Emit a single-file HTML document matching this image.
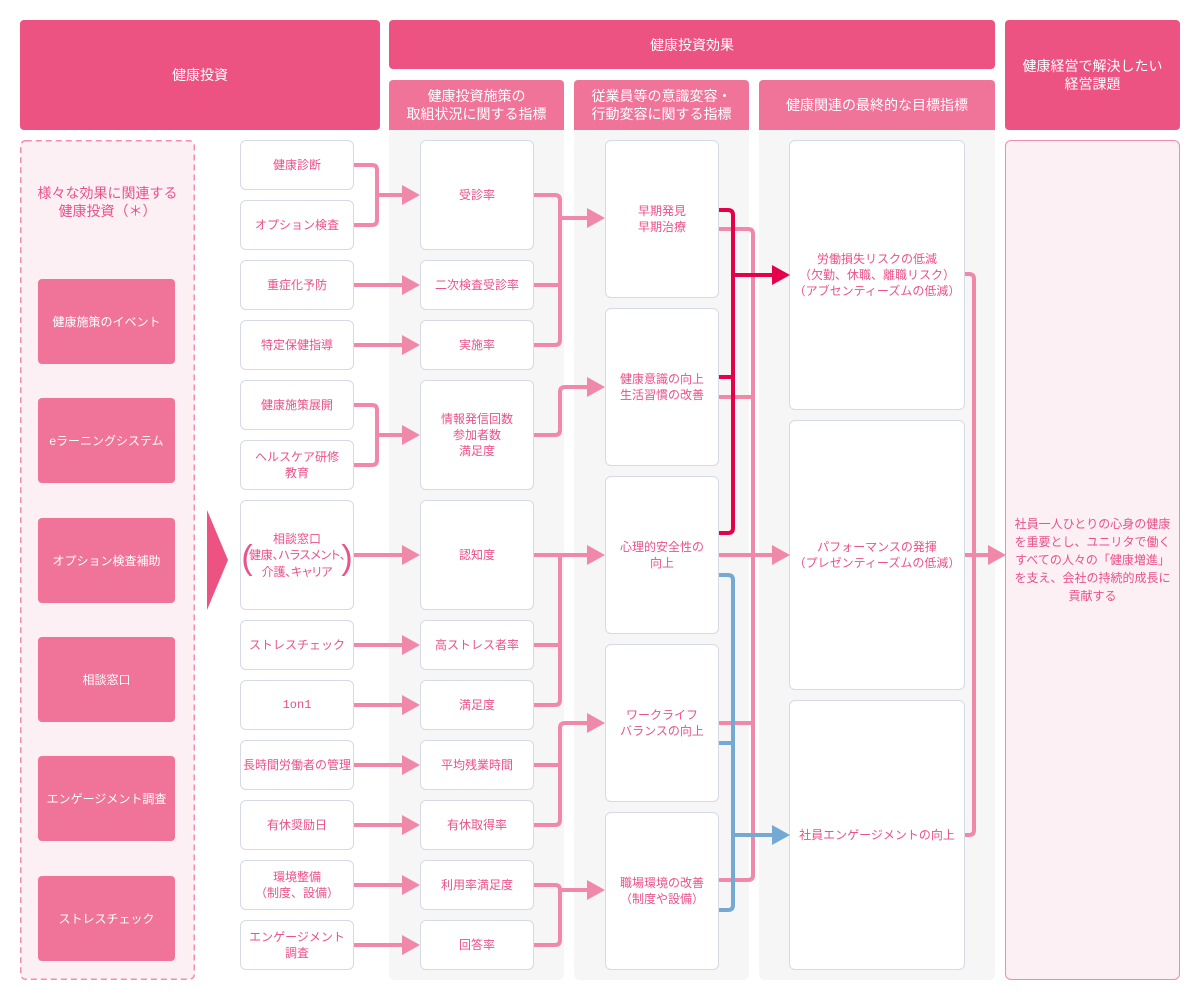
<!DOCTYPE html>
<html lang="ja">
<head>
<meta charset="utf-8">
<style>
  html,body{margin:0;padding:0;background:#fff;}
  body{width:1200px;height:1000px;position:relative;overflow:hidden;
       font-family:"Liberation Sans","Noto Sans CJK JP",sans-serif;}
  .abs{position:absolute;box-sizing:border-box;}
  .hd{position:absolute;box-sizing:border-box;background:#ec5282;color:#fff;border-radius:4px;
      display:flex;align-items:center;justify-content:center;text-align:center;font-size:14px;line-height:18px;}
  .sh{position:absolute;box-sizing:border-box;background:#f07399;color:#fff;border-radius:4px 4px 0 0;
      display:flex;align-items:center;justify-content:center;text-align:center;font-size:14px;line-height:18px;}
  .col{position:absolute;background:#f6f6f6;border-radius:0 0 6px 6px;}
  .b{position:absolute;box-sizing:border-box;background:#fff;border:1.5px solid #d6d9e6;border-radius:6px;
     display:flex;align-items:center;justify-content:center;text-align:center;color:#e9528a;
     font-size:12px;line-height:16px;}
  .lb{position:absolute;box-sizing:border-box;background:#f07399;border-radius:4px;color:#fff;
      display:flex;align-items:center;justify-content:center;text-align:center;font-size:12px;line-height:16px;
      left:38px;width:137px;height:85px;}
  svg{position:absolute;left:0;top:0;}
</style>
</head>
<body>

<!-- headers -->
<div class="hd" style="left:20px;top:20px;width:360px;height:110px;">健康投資</div>
<div class="hd" style="left:389px;top:20px;width:606px;height:49px;">健康投資効果</div>
<div class="hd" style="left:1005px;top:20px;width:175px;height:110px;">健康経営で解決したい<br>経営課題</div>

<div class="sh" style="left:389px;top:80px;width:175px;height:50px;">健康投資施策の<br>取組状況に関する指標</div>
<div class="sh" style="left:574px;top:80px;width:175px;height:50px;">従業員等の意識変容・<br>行動変容に関する指標</div>
<div class="sh" style="left:759px;top:80px;width:236px;height:50px;">健康関連の最終的な目標指標</div>

<!-- gray columns -->
<div class="col" style="left:389px;top:130px;width:175px;height:850px;"></div>
<div class="col" style="left:574px;top:130px;width:175px;height:850px;"></div>
<div class="col" style="left:759px;top:130px;width:236px;height:850px;"></div>

<!-- left dashed area -->
<svg width="1200" height="1000" viewBox="0 0 1200 1000" style="position:absolute;left:0;top:0;">
  <rect x="20.75" y="140.75" width="173.5" height="838.5" rx="5" ry="5" fill="#fdf0f5" stroke="#f28db1" stroke-width="1.5" stroke-dasharray="6 4"/>
</svg>
<div class="abs" style="left:20px;top:184px;width:175px;text-align:center;color:#e9528a;font-size:14px;line-height:18px;">様々な効果に関連する<br>健康投資（＊）</div>

<div class="lb" style="top:279px;">健康施策のイベント</div>
<div class="lb" style="top:398px;">eラーニングシステム</div>
<div class="lb" style="top:518px;">オプション検査補助</div>
<div class="lb" style="top:637px;">相談窓口</div>
<div class="lb" style="top:756px;">エンゲージメント調査</div>
<div class="lb" style="top:876px;">ストレスチェック</div>

<!-- right box -->
<div class="abs" style="left:1005px;top:140px;width:175px;height:840px;background:#fcf0f4;border:1.5px solid #f08cb0;border-radius:6px;
  display:flex;align-items:center;justify-content:center;text-align:center;color:#e9528a;font-size:12px;line-height:18px;">
  社員一人ひとりの心身の健康<br>を重要とし、ユニリタで働く<br>すべての人々の「健康増進」<br>を支え、会社の持続的成長に<br>貢献する</div>

<!-- column 1 -->
<div class="b" style="left:240px;top:140px;width:114px;height:50px;">健康診断</div>
<div class="b" style="left:240px;top:200px;width:114px;height:50px;">オプション検査</div>
<div class="b" style="left:240px;top:260px;width:114px;height:50px;">重症化予防</div>
<div class="b" style="left:240px;top:320px;width:114px;height:50px;">特定保健指導</div>
<div class="b" style="left:240px;top:380px;width:114px;height:50px;">健康施策展開</div>
<div class="b" style="left:240px;top:440px;width:114px;height:50px;">ヘルスケア研修<br>教育</div>
<div class="b" style="left:240px;top:500px;width:114px;height:110px;"></div>
<div class="abs" style="left:240px;top:531px;width:114px;text-align:center;color:#e9528a;font-size:12px;line-height:16px;">相談窓口</div>
<div class="abs" style="left:249px;top:547px;width:96px;text-align:center;color:#e9528a;font-size:12px;line-height:16.5px;
  font-family:'Noto Sans CJK JP',sans-serif;font-feature-settings:'palt';white-space:nowrap;letter-spacing:-0.2px;">健康、ハラスメント、<br>介護、キャリア</div>
<div class="abs" style="left:241px;top:538px;width:12px;height:44px;color:#e9528a;font-size:34px;line-height:40px;text-align:center;">(</div>
<div class="abs" style="left:341px;top:538px;width:12px;height:44px;color:#e9528a;font-size:34px;line-height:40px;text-align:center;">)</div>
<div class="b" style="left:240px;top:620px;width:114px;height:50px;">ストレスチェック</div>
<div class="b" style="left:240px;top:680px;width:114px;height:50px;font-family:'Liberation Mono',monospace;">1on1</div>
<div class="b" style="left:240px;top:740px;width:114px;height:50px;">長時間労働者の管理</div>
<div class="b" style="left:240px;top:800px;width:114px;height:50px;">有休奨励日</div>
<div class="b" style="left:240px;top:860px;width:114px;height:50px;">環境整備<br>（制度、設備）</div>
<div class="b" style="left:240px;top:920px;width:114px;height:50px;">エンゲージメント<br>調査</div>

<!-- column 2 -->
<div class="b" style="left:420px;top:140px;width:114px;height:110px;">受診率</div>
<div class="b" style="left:420px;top:260px;width:114px;height:50px;">二次検査受診率</div>
<div class="b" style="left:420px;top:320px;width:114px;height:50px;">実施率</div>
<div class="b" style="left:420px;top:380px;width:114px;height:110px;">情報発信回数<br>参加者数<br>満足度</div>
<div class="b" style="left:420px;top:500px;width:114px;height:110px;">認知度</div>
<div class="b" style="left:420px;top:620px;width:114px;height:50px;">高ストレス者率</div>
<div class="b" style="left:420px;top:680px;width:114px;height:50px;">満足度</div>
<div class="b" style="left:420px;top:740px;width:114px;height:50px;">平均残業時間</div>
<div class="b" style="left:420px;top:800px;width:114px;height:50px;">有休取得率</div>
<div class="b" style="left:420px;top:860px;width:114px;height:50px;">利用率満足度</div>
<div class="b" style="left:420px;top:920px;width:114px;height:50px;">回答率</div>

<!-- column 3 -->
<div class="b" style="left:605px;top:140px;width:114px;height:158px;">早期発見<br>早期治療</div>
<div class="b" style="left:605px;top:308px;width:114px;height:158px;">健康意識の向上<br>生活習慣の改善</div>
<div class="b" style="left:605px;top:476px;width:114px;height:158px;">心理的安全性の<br>向上</div>
<div class="b" style="left:605px;top:644px;width:114px;height:158px;">ワークライフ<br>バランスの向上</div>
<div class="b" style="left:605px;top:812px;width:114px;height:158px;">職場環境の改善<br>（制度や設備）</div>

<!-- column 4 -->
<div class="b" style="left:789px;top:140px;width:176px;height:270px;">労働損失リスクの低減<br>（欠勤、休職、離職リスク）<br>（アブセンティーズムの低減）</div>
<div class="b" style="left:789px;top:420px;width:176px;height:270px;">パフォーマンスの発揮<br>（プレゼンティーズムの低減）</div>
<div class="b" style="left:789px;top:700px;width:176px;height:270px;">社員エンゲージメントの向上</div>

<!-- connectors -->
<svg width="1200" height="1000" viewBox="0 0 1200 1000">
  <!-- big triangle -->
  <polygon points="207,510 228,560 207,610" fill="#ec5282"/>

  <g fill="none" stroke="#f088aa" stroke-width="4" stroke-linejoin="round">
    <!-- col1 -> col2 -->
    <path d="M354,165 H372 Q377,165 377,170 V220 Q377,225 372,225 H354"/>
    <path d="M377,195 H404"/>
    <path d="M354,285 H404"/>
    <path d="M354,345 H404"/>
    <path d="M354,405 H372 Q377,405 377,410 V460 Q377,465 372,465 H354"/>
    <path d="M377,435 H404"/>
    <path d="M354,555 H404"/>
    <path d="M354,645 H404"/>
    <path d="M354,705 H404"/>
    <path d="M354,765 H404"/>
    <path d="M354,825 H404"/>
    <path d="M354,885 H404"/>
    <path d="M354,945 H404"/>
    <!-- col2 -> col3 -->
    <path d="M534,195 H555 Q560,195 560,200 V340 Q560,345 555,345 H534"/>
    <path d="M534,285 H560"/>
    <path d="M560,218 H589"/>
    <path d="M534,435 H555 Q560,435 560,430 V392 Q560,387 565,387 H589"/>
    <path d="M534,555 H589"/>
    <path d="M560,555 V700 Q560,705 555,705 H534"/>
    <path d="M534,645 H560"/>
    <path d="M534,765 H560"/>
    <path d="M534,825 H555 Q560,825 560,820 V728 Q560,723 565,723 H589"/>
    <path d="M534,885 H555 Q560,885 560,890 V940 Q560,945 555,945 H534"/>
    <path d="M560,890 H589"/>
    <!-- col3 -> col4 pink -->
    <path d="M719,229 H748 Q753,229 753,234 V875 Q753,880 748,880 H719"/>
    <path d="M719,397 H753"/>
    <path d="M719,723 H753"/>
    <path d="M719,555 H774"/>
    <!-- col4 -> right -->
    <path d="M965,274 H969 Q974,274 974,279 V830 Q974,835 969,835 H965"/>
    <path d="M965,555 H990"/>
  </g>
  <g fill="none" stroke="#74a9d4" stroke-width="4" stroke-linejoin="round">
    <path d="M719,575 H728 Q733,575 733,580 V905 Q733,910 728,910 H719"/>
    <path d="M719,743 H733"/>
    <path d="M733,835 H774"/>
  </g>
  <g fill="none" stroke="#e5004c" stroke-width="4" stroke-linejoin="round">
    <path d="M719,210 H728 Q733,210 733,215 V528 Q733,533 728,533 H719"/>
    <path d="M719,377 H733"/>
    <path d="M733,275 H774"/>
  </g>

  <!-- arrowheads -->
  <g fill="#f088aa">
    <polygon points="402,185 420,195 402,205"/>
    <polygon points="402,275 420,285 402,295"/>
    <polygon points="402,335 420,345 402,355"/>
    <polygon points="402,425 420,435 402,445"/>
    <polygon points="402,545 420,555 402,565"/>
    <polygon points="402,635 420,645 402,655"/>
    <polygon points="402,695 420,705 402,715"/>
    <polygon points="402,755 420,765 402,775"/>
    <polygon points="402,815 420,825 402,835"/>
    <polygon points="402,875 420,885 402,895"/>
    <polygon points="402,935 420,945 402,955"/>

    <polygon points="587,208 605,218 587,228"/>
    <polygon points="587,377 605,387 587,397"/>
    <polygon points="587,545 605,555 587,565"/>
    <polygon points="587,713 605,723 587,733"/>
    <polygon points="587,880 605,890 587,900"/>

    <polygon points="772,545 790,555 772,565"/>
    <polygon points="988,545 1006,555 988,565"/>
  </g>
  <polygon points="772,265 790,275 772,285" fill="#e5004c"/>
  <polygon points="772,825 790,835 772,845" fill="#74a9d4"/>
</svg>

</body>
</html>
